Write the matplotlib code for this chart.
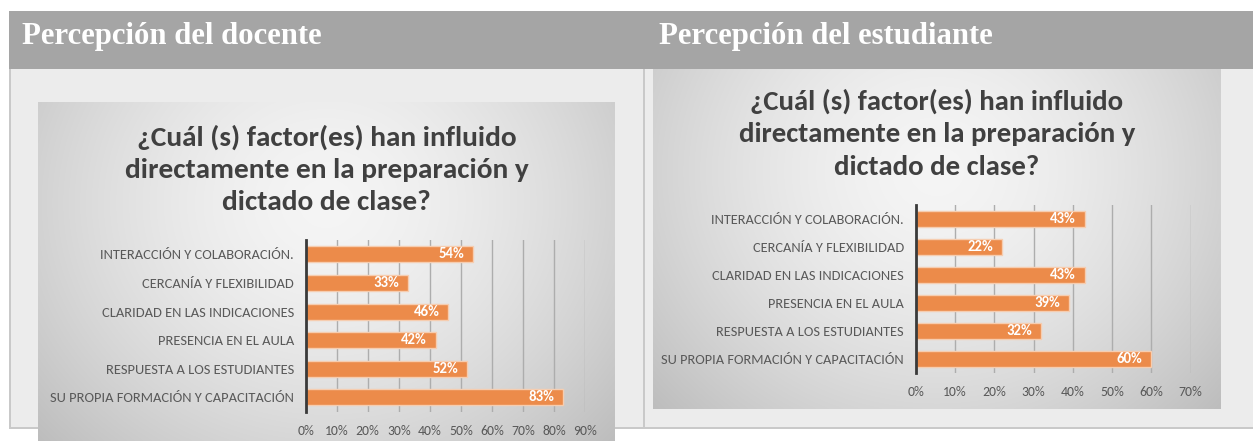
import numpy as np
import matplotlib
matplotlib.use("Agg")
import matplotlib.pyplot as plt
from matplotlib.patches import Rectangle
from matplotlib import font_manager

# ---------------- data ----------------
categories = ["INTERACCIÓN Y COLABORACIÓN.", "CERCANÍA Y FLEXIBILIDAD",
              "CLARIDAD EN LAS INDICACIONES", "PRESENCIA EN EL AULA",
              "RESPUESTA A LOS ESTUDIANTES", "SU PROPIA FORMACIÓN Y CAPACITACIÓN"]
docente = [54, 33, 46, 42, 52, 83]
estudiante = [43, 22, 43, 39, 32, 60]
docente_ticks = list(range(0, 100, 10))
estudiante_ticks = list(range(0, 80, 10))
header_left = "Percepción del docente"
header_right = "Percepción del estudiante"
title_lines = ["¿Cuál (s) factor(es) han influido",
               "directamente en la preparación y",
               "dictado de clase?"]

# ---------------- fonts ----------------
available = {f.name for f in font_manager.fontManager.ttflist}
LABEL_FONT = "Lato"
for cand in ["Carlito", "Liberation Sans Narrow"]:
    if cand in available:
        LABEL_FONT = cand
        break
SANS = [LABEL_FONT, "Lato", "DejaVu Sans"]
TITLE = ["Carlito", "Lato", "DejaVu Sans"] if "Carlito" in available else ["Lato", "DejaVu Sans"]

# ---------------- layout helpers ----------------
W, H = 1253, 441
fig = plt.figure(figsize=(W / 100, H / 100), dpi=100)
fig.patch.set_facecolor("white")
renderer = fig.canvas.get_renderer()


def fx(x):
    return x / W


def fy(y):
    return 1 - y / H


def rect(x0, y0, x1, y1, color, z=0):
    fig.patches.append(Rectangle((fx(x0), fy(y1)), (x1 - x0) / W, (y1 - y0) / H,
                                 transform=fig.transFigure, facecolor=color,
                                 edgecolor="none", zorder=z))


def fit(t, width_px):
    bb = t.get_window_extent(renderer)
    t.set_fontsize(t.get_fontsize() * width_px / bb.width)
    return t.get_fontsize()


def measure_size(text, width_px, **kw):
    t = fig.text(0, 0, text, fontsize=10, **kw)
    s = fit(t, width_px)
    t.remove()
    return s


# ---------------- page background ----------------
rect(9, 11, 1253, 69, "#a5a5a5", z=0)
rect(9, 69, 1253, 429, "#ececec", z=0)
rect(9, 69, 11, 429, "#c9c9c9", z=0.5)
rect(643, 69, 645, 429, "#c9c9c9", z=0.5)
rect(9, 427, 1253, 429, "#c9c9c9", z=0.5)

hl = fig.text(fx(22), fy(44), header_left, color="white", fontweight="bold",
              family=["Liberation Serif", "DejaVu Serif"], va="baseline", ha="left",
              fontsize=20, zorder=5)
hs = fit(hl, 300)
fig.text(fx(659), fy(44), header_right, color="white", fontweight="bold",
         family=["Liberation Serif", "DejaVu Serif"], va="baseline", ha="left",
         fontsize=hs, zorder=5)


# ---------------- chart backgrounds (gradient) ----------------
def gradient_box(x0, y0, x1, y1):
    ax = fig.add_axes([fx(x0), fy(y1), (x1 - x0) / W, (y1 - y0) / H], zorder=1)
    ny, nx = 200, 300
    yy, xx = np.mgrid[0:1:ny * 1j, 0:1:nx * 1j]
    r = np.sqrt(((xx - 0.5) / 0.62) ** 2 + ((yy - 0.3) / 0.95) ** 2)
    v = 0.96 - 0.19 * np.clip(r, 0, 1.2) ** 1.6
    img = np.dstack([v, v, v])
    ax.imshow(img, extent=(0, 1, 0, 1), origin="upper", aspect="auto",
              interpolation="bilinear")
    ax.set_xlim(0, 1)
    ax.set_ylim(0, 1)
    ax.axis("off")
    return ax


gradient_box(38, 101.5, 615, 441)
gradient_box(653, 69, 1221, 409)


# ---------------- bar charts ----------------
def bar_chart(values, ticks, box, title_cx, title_ys, title_w, label_w):
    x0, y0, x1, y1 = box
    ax = fig.add_axes([fx(x0), fy(y1), (x1 - x0) / W, (y1 - y0) / H], zorder=3)
    ax.patch.set_alpha(0)
    pos = np.arange(len(categories))
    ax.barh(pos, values, height=0.56, color="#EC8B4A", edgecolor="#F6CDB0",
            linewidth=1.0, zorder=3)
    ax.set_xlim(ticks[0], ticks[-1])
    ax.set_ylim(len(categories) - 0.5, -0.5)
    ax.set_xticks(ticks)
    ax.set_xticklabels([f"{t}%" for t in ticks])
    ax.set_yticks(pos)
    ax.set_yticklabels(categories)
    ax.grid(axis="x", color="#adadad", linewidth=1.0, zorder=1)
    ax.set_axisbelow(True)
    for s in ["top", "right", "bottom"]:
        ax.spines[s].set_visible(False)
    ax.spines["left"].set_color("#3a3a3a")
    ax.spines["left"].set_linewidth(2.0)
    ax.spines["left"].set_zorder(4)

    cat_size = measure_size(categories[-1], label_w, family=SANS)
    tick_size = measure_size("90%", 24, family=SANS)
    val_size = measure_size("54%", 26, family=SANS, fontweight="bold")

    ax.tick_params(axis="y", length=0, pad=8.4, labelsize=cat_size,
                   labelcolor="#595959")
    ax.tick_params(axis="x", length=0, pad=14.2, labelsize=tick_size,
                   labelcolor="#595959")
    for lab in ax.get_yticklabels():
        lab.set_family(SANS)
    for lab in ax.get_xticklabels():
        lab.set_family(SANS)
        lab.set_va("center")

    for i, v in enumerate(values):
        ax.annotate(f"{v}%", (v, i), xytext=(-6.5, 0), textcoords="offset points",
                    ha="right", va="center", color="white", fontweight="heavy",
                    family=SANS, fontsize=val_size, zorder=5)

    tsize = measure_size(title_lines[0], title_w, family=TITLE, fontweight="bold")
    for line, ty in zip(title_lines, title_ys):
        fig.text(fx(title_cx), fy(ty), line, ha="center", va="center",
                 family=TITLE, fontweight="bold", fontsize=tsize,
                 color="#404040", zorder=5)
    return ax


bar_chart(docente, docente_ticks, (305.7, 240, 585, 411.7),
          326.5, [137, 170, 201.5], 380, 246)
bar_chart(estudiante, estudiante_ticks, (915.7, 205, 1190.7, 372.7),
          937, [101, 134.5, 167], 372, 243)

fig.savefig("out.png", dpi=100, facecolor="white")
